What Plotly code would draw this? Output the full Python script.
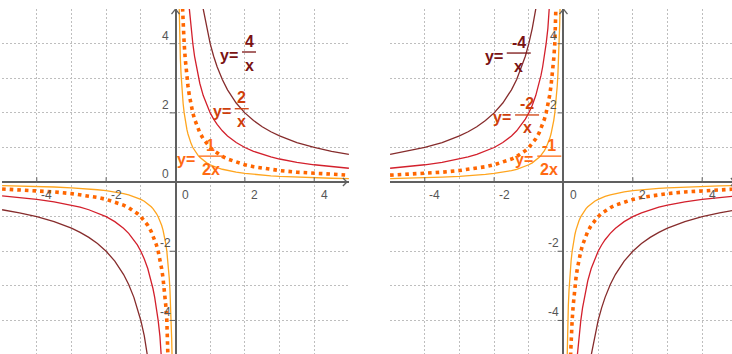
import plotly.graph_objects as go

# hyperbola coefficients y = k / x, as printed in the labels
coefs_left = [4, 2, 1, 0.5]
coefs_right = [-4, -2, -1, -0.5]

# sample x positions on the positive side (mirrored for the negative branch)
x_pos = [0.08, 0.09, 0.1, 0.11, 0.12, 0.13, 0.14, 0.16, 0.18, 0.2, 0.22, 0.25,
         0.28, 0.3, 0.33, 0.36, 0.4, 0.45, 0.5, 0.55, 0.6, 0.65, 0.7, 0.8, 0.9,
         1.0, 1.1, 1.2, 1.35, 1.5, 1.75, 2.0, 2.25, 2.5, 2.75, 3.0, 3.5, 4.0,
         4.5, 5.0]

tick_vals = [-4, -2, 0, 2, 4]

# label texts: (numerator, denominator, bar centre x, bar centre y)
labels_left = [("4", "x", 2.12, 3.76), ("2", "x", 1.91, 2.12), ("1", "2x", 1.02, 0.75)]
labels_right = [("-4", "x", -1.29, 3.73), ("-2", "x", -1.05, 1.94), ("-1", "2x", -0.41, 0.75)]

line_colors = ["#862C2C", "#D3202C", "#FF6600", "#FFA51E"]
label_colors = ["#7A1313", "#CF3F0C", "#FF6A12"]

AXIS_COL = "#606060"
GRID_COL = "#BEBEBE"
FONT = "Liberation Sans, Arial, sans-serif"

fig = go.Figure()


def add_curves(k_list, xa, ya):
    for k, col in zip(k_list, line_colors):
        xs = [-v for v in reversed(x_pos)] + [None] + x_pos
        ys = [k / x if x is not None else None for x in xs]
        if col == "#FF6600":
            line = dict(color=col, width=3.6, dash="3.6px,4px")
        else:
            line = dict(color=col, width=1.3)
        fig.add_trace(go.Scatter(x=xs, y=ys, mode="lines", line=line,
                                 connectgaps=False, hoverinfo="skip",
                                 showlegend=False, xaxis=xa, yaxis=ya))


def add_axis_decor(xr, yr, zero_y_label=True):
    # tick labels
    for t in tick_vals:
        fig.add_annotation(x=t, y=0, xref=xr, yref=yr, text=str(t), showarrow=False,
                           xshift=10, yshift=-13, font=dict(family=FONT, size=12, color="#555"))
        if t != 0 or zero_y_label:
            fig.add_annotation(x=0, y=t, xref=xr, yref=yr, text=str(t), showarrow=False,
                               xshift=-10, yshift=8, font=dict(family=FONT, size=12, color="#555"))
        if t != 0:
            fig.add_shape(type="line", xref=xr, yref=yr, xsizemode="pixel", xanchor=t,
                          x0=0, x1=0, y0=0, y1=0.14, line=dict(color=AXIS_COL, width=1))
            fig.add_shape(type="line", xref=xr, yref=yr, ysizemode="pixel", yanchor=t,
                          y0=0, y1=0, x0=-0.17, x1=0, line=dict(color=AXIS_COL, width=1))
    # arrow heads
    arrow = dict(color=AXIS_COL, width=1.3)
    for sx in (-1, 1):
        fig.add_shape(type="line", xref=xr, yref=yr, xsizemode="pixel", ysizemode="pixel",
                      xanchor=0, yanchor=5, x0=0, y0=0, x1=4 * sx, y1=-5, line=arrow)
        fig.add_shape(type="line", xref=xr, yref=yr, xsizemode="pixel", ysizemode="pixel",
                      xanchor=5, yanchor=0, x0=-2, y0=0, x1=-6, y1=4 * sx, line=arrow)


def add_labels(items, xr, yr):
    for (num, den, cx, cy), col in zip(items, label_colors):
        hw = max(len(num), len(den)) * 5 + 2
        f = dict(family=FONT, size=16, color=col)
        fig.add_annotation(x=cx, y=cy, xref=xr, yref=yr, text="<b>y=</b>", showarrow=False,
                           xanchor="right", xshift=-hw - 2, yshift=-3, font=f)
        fig.add_annotation(x=cx, y=cy, xref=xr, yref=yr, text="<b>%s</b>" % num, showarrow=False,
                           yshift=11, font=f)
        fig.add_annotation(x=cx, y=cy, xref=xr, yref=yr, text="<b>%s</b>" % den, showarrow=False,
                           yshift=-13, font=f)
        fig.add_shape(type="line", xref=xr, yref=yr, xsizemode="pixel", xanchor=cx,
                      x0=-hw, x1=hw, y0=cy, y1=cy, line=dict(color=col, width=1.3))


add_curves(coefs_left, "x", "y")
add_curves(coefs_right, "x2", "y2")
add_axis_decor("x", "y")
# on the right the "0" beside the origin is hidden under the -1/2x label
add_axis_decor("x2", "y2", zero_y_label=False)
add_labels(labels_left, "x", "y")
add_labels(labels_right, "x2", "y2")

ax_common = dict(dtick=1, tick0=0, showgrid=True, gridcolor=GRID_COL, gridwidth=1,
                 griddash="2px,2px", zeroline=True, zerolinecolor=AXIS_COL,
                 zerolinewidth=1.6, showticklabels=False, ticks="", showline=False)

fig.update_layout(
    width=732, height=354,
    margin=dict(l=0, r=0, t=0, b=0),
    paper_bgcolor="white", plot_bgcolor="white",
    showlegend=False,
    xaxis=dict(domain=[2 / 732, 349 / 732], range=[-5.003, 5.003], anchor="y", **ax_common),
    yaxis=dict(domain=[0, 345 / 354], range=[-4.97, 5.003], anchor="x", **ax_common),
    xaxis2=dict(domain=[390 / 732, 1], range=[-5.003, 4.86], anchor="y2", **ax_common),
    yaxis2=dict(domain=[0, 345 / 354], range=[-4.97, 5.003], anchor="x2", **ax_common),
)

# the page keeps the browser's default 8px body margin otherwise
fig.write_html("out.html", config={"displayModeBar": False},
               post_script="document.body.style.margin='0';")
